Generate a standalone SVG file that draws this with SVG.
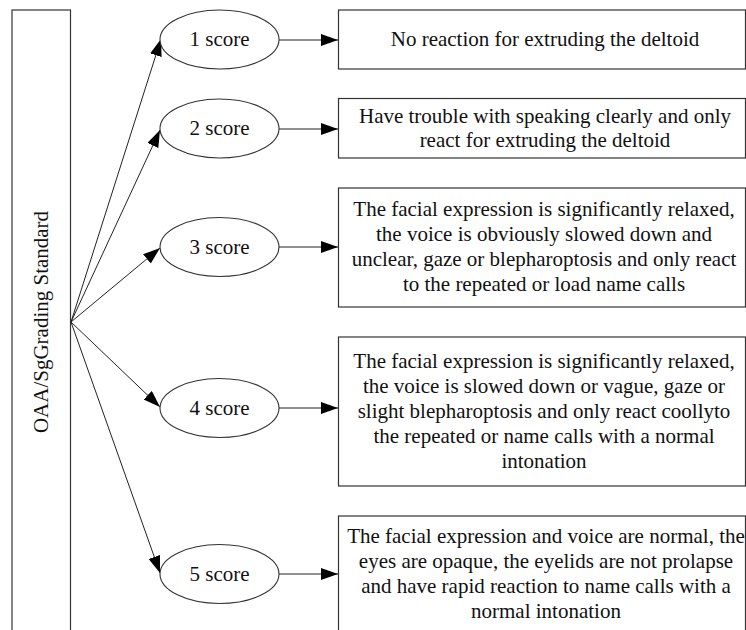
<svg xmlns="http://www.w3.org/2000/svg" width="746" height="630" viewBox="0 0 746 630">
<defs>
<style>
.box{fill:#fff;stroke:#333;stroke-width:1.2}
.ell{fill:#fff;stroke:#333;stroke-width:1.1}
.t{font-family:"Liberation Serif","Times New Roman",serif;font-size:21px;fill:#111;text-anchor:middle}
.c{stroke:#222;stroke-width:1;fill:none;marker-end:url(#ah)}
</style>
<marker id="ah" markerUnits="userSpaceOnUse" markerWidth="18" markerHeight="13" refX="17" refY="6" orient="auto">
<path d="M0,0 L17,6 L0,12 z" fill="#000"/>
</marker>
</defs>
<rect width="746" height="630" fill="#fff"/>
<g id="root">
<rect class="box" x="12" y="10" width="58.5" height="640"/>
<text class="t" transform="translate(48,322) rotate(-90)">OAA/SgGrading Standard</text>
</g>
<g id="connectors">
<line class="c" x1="71" y1="322" x2="161" y2="39"/>
<line class="c" x1="71" y1="322" x2="160" y2="130"/>
<line class="c" x1="71" y1="322" x2="160" y2="248"/>
<line class="c" x1="71" y1="322" x2="160" y2="407"/>
<line class="c" x1="71" y1="322" x2="160" y2="573"/>
<line class="c" x1="279" y1="40" x2="338" y2="40"/>
<line class="c" x1="279" y1="129" x2="338" y2="129"/>
<line class="c" x1="279" y1="247" x2="338" y2="247"/>
<line class="c" x1="279" y1="408" x2="338" y2="408"/>
<line class="c" x1="279" y1="574" x2="338" y2="574"/>
</g>
<g id="s1">
<ellipse class="ell" cx="219.5" cy="39.5" rx="59.5" ry="29.5"/>
<text class="t" x="219.5" y="46">1 score</text>
</g>
<g id="s2">
<ellipse class="ell" cx="219.5" cy="128.5" rx="59.5" ry="29.5"/>
<text class="t" x="219.5" y="135">2 score</text>
</g>
<g id="s3">
<ellipse class="ell" cx="219.5" cy="247" rx="59.5" ry="29.5"/>
<text class="t" x="219.5" y="254">3 score</text>
</g>
<g id="s4">
<ellipse class="ell" cx="219.5" cy="408" rx="59.5" ry="29.5"/>
<text class="t" x="219.5" y="415">4 score</text>
</g>
<g id="s5">
<ellipse class="ell" cx="219.5" cy="574" rx="59.5" ry="29.5"/>
<text class="t" x="219.5" y="581">5 score</text>
</g>
<g id="d1">
<rect class="box" x="338.5" y="10" width="407" height="59"/>
<text class="t" x="545" y="46">No reaction for extruding the deltoid</text>
</g>
<g id="d2">
<rect class="box" x="338.5" y="98.5" width="407" height="59.5"/>
<text class="t" x="545" y="123">Have trouble with speaking clearly and only</text>
<text class="t" x="545" y="147">react for extruding the deltoid</text>
</g>
<g id="d3">
<rect class="box" x="338.5" y="188" width="407" height="119"/>
<text class="t" x="544" y="216">The facial expression is significantly relaxed,</text>
<text class="t" x="544" y="241">the voice is obviously slowed down and</text>
<text class="t" x="544" y="266">unclear, gaze or blepharoptosis and only react</text>
<text class="t" x="544" y="291">to the repeated or load name calls</text>
</g>
<g id="d4">
<rect class="box" x="338.5" y="337" width="407" height="149"/>
<text class="t" x="544" y="368">The facial expression is significantly relaxed,</text>
<text class="t" x="544" y="393">the voice is slowed down or vague, gaze or</text>
<text class="t" x="544" y="418">slight blepharoptosis and only react coollyto</text>
<text class="t" x="544" y="443">the repeated or name calls with a normal</text>
<text class="t" x="544" y="468">intonation</text>
</g>
<g id="d5">
<rect class="box" x="338.5" y="516" width="407" height="130"/>
<text class="t" x="546" y="543">The facial expression and voice are normal, the</text>
<text class="t" x="546" y="568">eyes are opaque, the eyelids are not prolapse</text>
<text class="t" x="546" y="593">and have rapid reaction to name calls with a</text>
<text class="t" x="546" y="618">normal intonation</text>
</g>
</svg>
